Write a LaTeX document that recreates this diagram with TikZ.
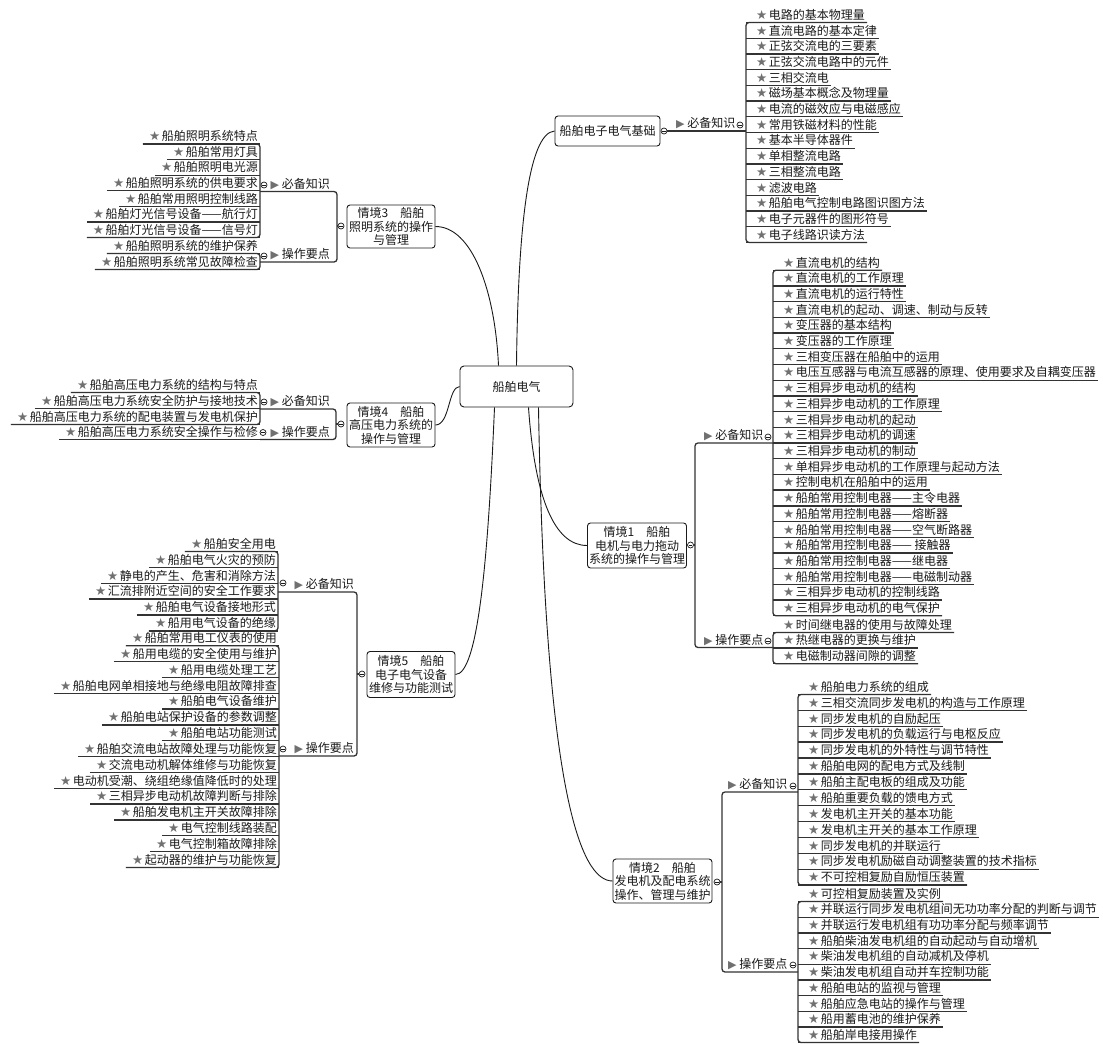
\documentclass[tikz,border=0pt]{standalone}
\usepackage{fontspec}
\setmainfont{Noto Sans CJK SC}
\newfontfamily\symfont{DejaVu Sans}
\definecolor{ink}{HTML}{1A1A1A}
\definecolor{lne}{HTML}{333333}
\definecolor{starc}{HTML}{707070}
\newcommand{\st}{\textcolor{starc}{\symfont\fontsize{12.5}{12.5}\selectfont ★}}
\newcommand{\tri}{\textcolor{starc}{\symfont\fontsize{11}{11}\selectfont ▶}}
\tikzset{
  topic/.style={draw=ink, line width=0.9pt, rounded corners=3pt, fill=white, align=center,
    text=ink, font=\fontsize{12}{13.5}\selectfont, inner xsep=1.5pt, inner ysep=2pt},
  tag/.style={inner xsep=0pt, inner ysep=1pt, text height=9.5pt, text depth=2pt, text=ink,
    font=\fontsize{12}{14}\selectfont},
  itemR/.style={tag, anchor=south west, inner xsep=2pt,
    execute at begin node={\hspace*{8pt}\st\hspace{1.5pt}}},
  itemL/.style={tag, anchor=south east, inner xsep=2pt,
    execute at begin node={\hspace*{4pt}\st\hspace{1.5pt}}},
  uline/.style={draw=lne, line width=1.3pt},
  link/.style={draw=ink, line width=0.9pt},
  fold/.style={circle, draw=ink, line width=0.7pt, fill=white, inner sep=0pt, minimum size=6pt,
    path picture={\draw[line width=0.6pt] ([xshift=-1.8pt]path picture bounding box.center)
      -- ([xshift=1.8pt]path picture bounding box.center);}}
}
\begin{document}
\begin{tikzpicture}[x=1pt, y=-1pt]
  \useasboundingbox[fill=white] (0,0) rectangle (1103,1044);
  \node[topic, minimum width=113pt, minimum height=41pt, rounded corners=4pt] (root) at (516.5,386.5) {船舶电气};

  % 船舶电子电气基础
  \node[topic, minimum width=105pt, minimum height=30pt] (b1) at (607.5,131) {船舶电子电气基础};
  \node[fold] (b1f) at (664,131) {};
  \node[tag, anchor=south west] (b1k) at (676,131) {\tri\ 必备知识};
  \node[fold] (b1kf) at (740,125) {};
  \foreach \t [count=\i] in {电路的基本物理量, 直流电路的基本定律, 正弦交流电的三要素, 正弦交流电路中的元件,
      三相交流电, 磁场基本概念及物理量, 电流的磁效应与电磁感应, 常用铁磁材料的性能, 基本半导体器件,
      单相整流电路, 三相整流电路, 滤波电路, 船舶电气控制电路图识图方法, 电子元器件的图形符号, 电子线路识读方法}
    \node[itemR] (b1k\i) at (746,{22.5+(\i-1)*15.71}) {\t};
  \foreach \i in {1,...,15} \draw[uline] (b1k\i.south west) -- (b1k\i.south east);
  \draw[uline, rounded corners=3pt] (b1k1.south east) -- (b1k1.south west) -- (b1k15.south west) -- (b1k15.south east);
  \draw[uline] (b1f) -- (b1k1.south west |- b1f.center);

  % 情境1
  \node[topic, minimum width=98pt, minimum height=45pt] (s1) at (637,545.5) {情境1　船舶\\电机与电力拖动\\系统的操作与管理};
  \node[fold] (s1f) at (690.5,545) {};
  \coordinate (s1v) at (695,545);
  \node[tag, anchor=south west] (s1k) at (704,443) {\tri\ 必备知识};
  \node[fold] (s1kf) at (768,437) {};
  \node[tag, anchor=south west] (s1c) at (704,647.5) {\tri\ 操作要点};
  \node[fold] (s1cf) at (768,641) {};
  \foreach \t [count=\i] in {直流电机的结构, 直流电机的工作原理, 直流电机的运行特性, 直流电机的起动、调速、制动与反转,
      变压器的基本结构, 变压器的工作原理, 三相变压器在船舶中的运用, 电压互感器与电流互感器的原理、使用要求及自耦变压器,
      三相异步电动机的结构, 三相异步电动机的工作原理, 三相异步电动机的起动, 三相异步电动机的调速,
      三相异步电动机的制动, 单相异步电动机的工作原理与起动方法, 控制电机在船舶中的运用,
      船舶常用控制电器——主令电器, 船舶常用控制电器——熔断器, 船舶常用控制电器——空气断路器,
      船舶常用控制电器—— 接触器, 船舶常用控制电器——继电器, 船舶常用控制电器——电磁制动器,
      三相异步电动机的控制线路, 三相异步电动机的电气保护}
    \node[itemR] (s1k\i) at (773,{270.2+(\i-1)*15.71}) {\t};
  \foreach \i in {1,...,23} \draw[uline] (s1k\i.south west) -- (s1k\i.south east);
  \draw[uline, rounded corners=3pt] (s1k1.south east) -- (s1k1.south west) -- (s1k23.south west) -- (s1k23.south east);
  \foreach \t [count=\i] in {时间继电器的使用与故障处理, 热继电器的更换与维护, 电磁制动器间隙的调整}
    \node[itemR] (s1c\i) at (773,{632.5+(\i-1)*15.6}) {\t};
  \foreach \i in {1,...,3} \draw[uline] (s1c\i.south west) -- (s1c\i.south east);
  \draw[uline, rounded corners=3pt] (s1c1.south east) -- (s1c1.south west) -- (s1c3.south west) -- (s1c3.south east);
  \draw[uline] (s1f) -- (s1v);
  \draw[uline, rounded corners=3pt] (s1k1.south west |- s1k.south) -- (s1v |- s1k.south)
    -- (s1v |- s1c.south) -- (s1c1.south west |- s1c.south);

  % 情境2
  \node[topic, minimum width=99pt, minimum height=44pt] (s2) at (662.5,881) {情境2　船舶\\发电机及配电系统\\操作、管理与维护};
  \node[fold] (s2f) at (717,882) {};
  \coordinate (s2v) at (722,882);
  \node[tag, anchor=south west] (s2k) at (728,792) {\tri\ 必备知识};
  \node[fold] (s2kf) at (793,786) {};
  \node[tag, anchor=south west] (s2c) at (728,972) {\tri\ 操作要点};
  \node[fold] (s2cf) at (793,965) {};
  \foreach \t [count=\i] in {船舶电力系统的组成, 三相交流同步发电机的构造与工作原理, 同步发电机的自励起压,
      同步发电机的负载运行与电枢反应, 同步发电机的外特性与调节特性, 船舶电网的配电方式及线制,
      船舶主配电板的组成及功能, 船舶重要负载的馈电方式, 发电机主开关的基本功能, 发电机主开关的基本工作原理,
      同步发电机的并联运行, 同步发电机励磁自动调整装置的技术指标, 不可控相复励自励恒压装置}
    \node[itemR] (s2k\i) at (798,{694.5+(\i-1)*15.88}) {\t};
  \foreach \i in {1,...,13} \draw[uline] (s2k\i.south west) -- (s2k\i.south east);
  \draw[uline, rounded corners=3pt] (s2k1.south east) -- (s2k1.south west) -- (s2k13.south west) -- (s2k13.south east);
  \foreach \t [count=\i] in {可控相复励装置及实例, 并联运行同步发电机组间无功功率分配的判断与调节,
      并联运行发电机组有功功率分配与频率调节, 船舶柴油发电机组的自动起动与自动增机,
      柴油发电机组的自动减机及停机, 柴油发电机组自动并车控制功能, 船舶电站的监视与管理,
      船舶应急电站的操作与管理, 船用蓄电池的维护保养, 船舶岸电接用操作}
    \node[itemR] (s2c\i) at (798,{901.5+(\i-1)*15.67}) {\t};
  \foreach \i in {1,...,10} \draw[uline] (s2c\i.south west) -- (s2c\i.south east);
  \draw[uline, rounded corners=3pt] (s2c1.south east) -- (s2c1.south west) -- (s2c10.south west) -- (s2c10.south east);
  \draw[uline] (s2f) -- (s2v);
  \draw[uline, rounded corners=3pt] (s2k1.south west |- s2k.south) -- (s2v |- s2k.south)
    -- (s2v |- s2c.south) -- (s2c1.south west |- s2c.south);

  % 情境3
  \node[topic, minimum width=88pt, minimum height=43pt] (s3) at (391,226.5) {情境3　船舶\\照明系统的操作\\与管理};
  \node[fold] (s3f) at (341,226) {};
  \coordinate (s3v) at (337,226);
  \node[tag, anchor=south east] (s3k) at (330,191.5) {\tri\ 必备知识};
  \node[fold] (s3kf) at (264,185) {};
  \node[tag, anchor=south east] (s3c) at (330,262) {\tri\ 操作要点};
  \node[fold] (s3cf) at (264,256) {};
  \foreach \t [count=\i] in {船舶照明系统特点, 船舶常用灯具, 船舶照明电光源, 船舶照明系统的供电要求,
      船舶常用照明控制线路, 船舶灯光信号设备——航行灯, 船舶灯光信号设备——信号灯}
    \node[itemL] (s3k\i) at (260,{144+(\i-1)*15.58}) {\t};
  \foreach \i in {1,...,7} \draw[uline] (s3k\i.south west) -- (s3k\i.south east);
  \draw[uline, rounded corners=3pt] (s3k1.south west) -- (s3k1.south east) -- (s3k7.south east) -- (s3k7.south west);
  \foreach \t [count=\i] in {船舶照明系统的维护保养, 船舶照明系统常见故障检查}
    \node[itemL] (s3c\i) at (260,{253.5+(\i-1)*16}) {\t};
  \foreach \i in {1,2} \draw[uline] (s3c\i.south west) -- (s3c\i.south east);
  \draw[uline, rounded corners=3pt] (s3c1.south west) -- (s3c1.south east) -- (s3c2.south east) -- (s3c2.south west);
  \draw[uline] (s3f) -- (s3v);
  \draw[uline, rounded corners=3pt] (s3k1.south east |- s3k.south) -- (s3v |- s3k.south)
    -- (s3v |- s3c.south) -- (s3c1.south east |- s3c.south);

  % 情境4
  \node[topic, minimum width=88pt, minimum height=44pt] (s4) at (391,425) {情境4　船舶\\高压电力系统的\\操作与管理};
  \node[fold] (s4f) at (341,424) {};
  \coordinate (s4v) at (336,424);
  \node[tag, anchor=south east] (s4k) at (330,409) {\tri\ 必备知识};
  \node[fold] (s4kf) at (264,402) {};
  \node[tag, anchor=south east] (s4c) at (330,439.5) {\tri\ 操作要点};
  \node[fold] (s4cf) at (263,432.5) {};
  \foreach \t [count=\i] in {船舶高压电力系统的结构与特点, 船舶高压电力系统安全防护与接地技术,
      船舶高压电力系统的配电装置与发电机保护}
    \node[itemL] (s4k\i) at (260,{392.5+(\i-1)*16}) {\t};
  \foreach \i in {1,...,3} \draw[uline] (s4k\i.south west) -- (s4k\i.south east);
  \draw[uline, rounded corners=3pt] (s4k1.south west) -- (s4k1.south east) -- (s4k3.south east) -- (s4k3.south west);
  \node[itemL] (s4c1) at (260,439.5) {船舶高压电力系统安全操作与检修};
  \draw[uline] (s4c1.south west) -- (s4c1.south east);
  \draw[uline] (s4f) -- (s4v);
  \draw[uline, rounded corners=3pt] (s4k1.south east |- s4k.south) -- (s4v |- s4k.south)
    -- (s4v |- s4c.south) -- (s4c1.south east |- s4c.south);

  % 情境5
  \node[topic, minimum width=88pt, minimum height=46pt] (s5) at (411,674.5) {情境5　船舶\\电子电气设备\\维修与功能测试};
  \node[fold] (s5f) at (362,674) {};
  \coordinate (s5v) at (357,674);
  \node[tag, anchor=south east] (s5k) at (354,592) {\tri\ 必备知识};
  \node[fold] (s5kf) at (283,583) {};
  \node[tag, anchor=south east] (s5c) at (354,756) {\tri\ 操作要点};
  \node[fold] (s5cf) at (283,749) {};
  \foreach \t [count=\i] in {船舶安全用电, 船舶电气火灾的预防, 静电的产生、危害和消除方法,
      汇流排附近空间的安全工作要求, 船舶电气设备接地形式, 船用电气设备的绝缘}
    \node[itemL] (s5k\i) at (278,{551.5+(\i-1)*15.87}) {\t};
  \foreach \i in {1,...,6} \draw[uline] (s5k\i.south west) -- (s5k\i.south east);
  \draw[uline, rounded corners=3pt] (s5k1.south west) -- (s5k1.south east) -- (s5k6.south east) -- (s5k6.south west);
  \foreach \t [count=\i] in {船舶常用电工仪表的使用, 船用电缆的安全使用与维护, 船用电缆处理工艺,
      船舶电网单相接地与绝缘电阻故障排查, 船舶电气设备维护, 船舶电站保护设备的参数调整, 船舶电站功能测试,
      船舶交流电站故障处理与功能恢复, 交流电动机解体维修与功能恢复, 电动机受潮、绕组绝缘值降低时的处理,
      三相异步电动机故障判断与排除, 船舶发电机主开关故障排除, 电气控制线路装配, 电气控制箱故障排除,
      起动器的维护与功能恢复}
    \node[itemL] (s5c\i) at (279,{645.8+(\i-1)*15.83}) {\t};
  \foreach \i in {1,...,15} \draw[uline] (s5c\i.south west) -- (s5c\i.south east);
  \draw[uline, rounded corners=3pt] (s5c1.south west) -- (s5c1.south east) -- (s5c15.south east) -- (s5c15.south west);
  \draw[uline] (s5f) -- (s5v);
  \draw[uline, rounded corners=3pt] (s5k1.south east |- s5k.south) -- (s5v |- s5k.south)
    -- (s5v |- s5c.south) -- (s5c1.south east |- s5c.south);

  % curves from the centre
  \draw[link] (root.north) .. controls (518,230) and (528,133) .. (b1.west);
  \draw[link] ([xshift=-18pt]root.north) .. controls (495,290) and (472,226.5) .. (s3.east);
  \draw[link] (root.west) .. controls (448,387) and (450,425) .. (s4.east);
  \draw[link] ([xshift=-22pt]root.south) .. controls (488,560) and (478,674.5) .. (s5.east);
  \draw[link] ([xshift=12pt]root.south) .. controls (535,500) and (555,545.5) .. (s1.west);
  \draw[link] ([xshift=22pt]root.south) .. controls (545,790) and (580,881) .. (s2.west);
\end{tikzpicture}
\end{document}
